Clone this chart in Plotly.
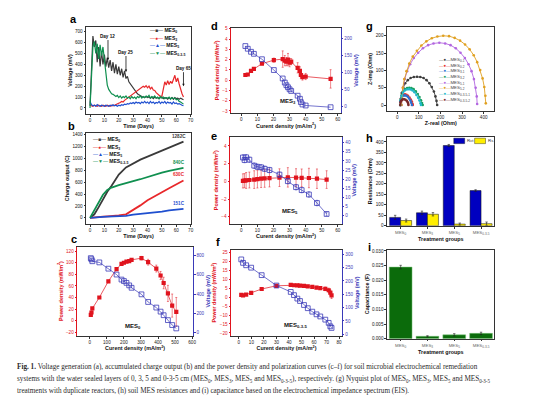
import plotly.graph_objects as go

W, H = 554, 395
def fx(p): return p / W
def fy(p): return 1 - p / H

FONT = "Arial, Liberation Sans, sans-serif"
C_BLK = "#3a3a3a"; C_RED = "#e8282b"; C_BLU = "#1f4fcf"; C_GRN = "#109050"
P_RED = "#e0141e"; P_BLU = "#3a3ab8"

# ---------------- (a) voltage generation ----------------
days_a = [0, 1, 2, 3, 4, 5, 6, 7, 8, 9, 10, 11, 12, 13, 14, 15, 16, 17, 18, 19,
          20, 21, 22, 23, 24, 25, 26, 27, 28, 29, 30, 31, 32, 33, 34, 35, 36, 37, 38, 39,
          40, 41, 42, 43, 44, 45, 46, 47, 48, 49, 50, 51, 52, 53, 54, 55, 56, 57, 58, 59,
          60, 61, 62, 63, 64, 65]
volt_mes0 = [20, 300, 660, 560, 620, 420, 560, 380, 520, 400,
             490, 380, 460, 370, 440, 340, 420, 320, 400, 310,
             380, 300, 360, 280, 340, 270, 290, 240, 220, 200,
             180, 160, 145, 130, 120, 110, 105, 100, 95, 105,
             95, 100, 90, 100, 85, 100, 90, 95, 85, 95,
             100, 85, 95, 90, 80, 95, 85, 95, 80, 95,
             85, 90, 80, 90, 85, 75]
volt_mes3 = [25, 20, 15, 25, 20, 15, 25, 20, 15, 25,
             20, 15, 25, 20, 15, 25, 20, 25, 30, 35,
             40, 50, 60, 55, 70, 80, 85, 100, 105, 120,
             125, 140, 150, 160, 165, 180, 185, 200, 190, 205,
             185, 200, 175, 190, 165, 160, 140, 130, 115, 105,
             110, 170, 240, 210, 250, 215, 245, 225, 265, 300,
             240, 275, 220, 165, 130, 100]
volt_mes5 = [60, 30, 20, 25, 15, 30, 20, 15, 25, 20,
             15, 25, 20, 15, 25, 20, 30, 20, 25, 15,
             25, 20, 30, 25, 35, 30, 40, 35, 45, 40,
             50, 40, 55, 45, 50, 40, 55, 45, 60, 45,
             55, 40, 60, 45, 55, 40, 50, 45, 60, 40,
             55, 45, 60, 40, 55, 45, 50, 35, 55, 40,
             45, 35, 40, 30, 25, 20]
volt_mes035 = [0, 320, 560, 610, 500, 590, 450, 580, 480, 560,
               420, 300, 210, 170, 150, 130, 125, 110, 105, 115,
               95, 110, 90, 105, 95, 110, 90, 100, 85, 105,
               90, 100, 85, 105, 95, 110, 90, 105, 95, 110,
               100, 115, 90, 105, 95, 110, 90, 100, 85, 105,
               90, 100, 85, 95, 90, 100, 80, 95, 85, 90,
               75, 80, 60, 55, 45, 35]

# ---------------- (b) accumulated charge ----------------
days_b = [0, 3, 6, 9, 12, 15, 20, 25, 30, 35, 40, 45, 50, 55, 60, 65]
charge_mes0 = [0, 60, 180, 320, 440, 540, 730, 850, 920, 980, 1030, 1080, 1120, 1170, 1220, 1282]
charge_mes3 = [0, 10, 15, 20, 25, 30, 40, 60, 130, 210, 295, 370, 430, 500, 570, 630]
charge_mes5 = [0, 10, 15, 18, 22, 25, 30, 35, 55, 65, 75, 90, 105, 125, 140, 151]
charge_mes035 = [0, 130, 270, 390, 470, 510, 550, 590, 620, 650, 690, 720, 760, 790, 820, 840]
charge_labels = ["1282C", "840C", "630C", "151C"]

# ---------------- (c) MES0 polarization ----------------
cur_c = [6, 10, 15, 56, 109, 157, 186, 200, 215, 231, 245, 303, 342, 390, 415, 433, 458, 483, 507]
pow_c = [10, 14, 21, 40, 68, 89, 98, 100, 102, 103, 105, 108, 101, 90, 78, 65, 47, 26, 15]
pow_c_err = [1, 1, 1, 1, 2, 2, 2, 2, 2, 2, 2, 3, 5, 6, 7, 10, 14, 20, 25]
volt_c = [772, 760, 740, 728, 663, 602, 550, 535, 516, 490, 465, 397, 318, 260, 218, 181, 130, 79, 44]

# ---------------- (d) MES3 polarization ----------------
cur_d = [2.5, 4, 6, 7.8, 12.8, 20.2, 25.7, 27, 28, 29, 30, 31, 35, 36.4, 37, 38, 40, 55.5]
pow_d = [0.5, 0.55, 0.9, 1.1, 1.6, 1.95, 2.05, 1.9, 1.8, 2.0, 1.7, 1.8, 1.2, 0.9, 0.5, 0.3, 0.35, 0.12]
pow_d_err = [0.1, 0.1, 0.1, 0.1, 0.1, 0.2, 0.8, 0.5, 0.4, 0.6, 0.4, 0.3, 0.5, 0.4, 0.3, 0.3, 0.3, 0.9]
volt_d = [178, 170, 161, 155, 139, 107, 82, 70, 62, 56, 50, 45, 31, 22, 12, 5, 2, -3]

# ---------------- (e) MES5 polarization ----------------
cur_e = [1, 2, 3, 5, 8, 10, 12.3, 14.5, 17.5, 23.7, 28.9, 34, 37.5, 42, 47, 53]
pow_e = [0.05, 0.08, 0.1, 0.15, 0.2, 0.25, 0.3, 0.33, 0.37, 0.42, 0.45, 0.43, 0.4, 0.38, 0.3, 0.2]
pow_e_err = [0.8, 0.8, 0.9, 0.9, 1.0, 1.0, 1.0, 1.0, 1.0, 1.0, 1.1, 1.0, 1.0, 1.1, 1.1, 1.0]
volt_e = [31.9, 30.5, 32, 30.7, 27.4, 26.8, 26.5, 25.7, 25, 22.5, 18.9, 15.6, 14, 11.6, 6.9, 0.9]
volt_e_err = [1.5, 1.5, 1.5, 1.5, 1.5, 1.5, 1.5, 1.5, 1.5, 1.5, 1.5, 1.5, 1.5, 1.5, 1.5, 1.0]

# ---------------- (f) MES0-3-5 polarization ----------------
cur_f = [1.9, 3.3, 5.8, 9.8, 18.2, 30, 41.4, 44, 46.7, 48.8, 52, 55, 58.6, 62, 65, 69, 71.7, 73, 74]
pow_f = [1.2, 1.0, 1.4, 2.3, 4.5, 6.3, 6.8, 6.6, 6.5, 6.4, 6.2, 6.0, 5.7, 5.3, 5.0, 4.6, 3.8, 2.5, 1.0]
pow_f_err = [0.4, 0.4, 0.5, 0.5, 0.5, 0.6, 0.6, 0.6, 0.6, 0.6, 0.6, 0.6, 0.7, 0.7, 0.8, 1.0, 1.2, 1.5, 1.8]
volt_f = [281, 268, 259, 250, 222, 183, 159, 147, 134, 125, 110, 98, 85, 75, 67, 55, 43, 30, 24]

# ---------------- (g) Nyquist ----------------
nyq_names = ["MES<sub>0-1</sub>", "MES<sub>0-2</sub>", "MES<sub>3-1</sub>", "MES<sub>3-2</sub>",
             "MES<sub>5-1</sub>", "MES<sub>5-2</sub>", "MES<sub>0-3-5-1</sub>", "MES<sub>0-3-5-2</sub>"]
nyq_colors = ["#3c3c3c", "#e8312a", "#2a6fd1", "#17a060", "#b266e0", "#e0a020", "#20b8c8", "#7a2a2a"]
zr_01 = [15, 17, 21, 28, 37, 49, 62, 77, 92, 107, 122, 136, 149, 160, 170, 177, 182, 185]
zi_01 = [0, 18, 35, 50, 63, 72, 78, 81, 82, 81, 78, 72, 63, 52, 39, 25, 12, 0]
zr_02 = [14, 15, 18, 23, 29, 36, 43, 50, 57, 63, 68, 71, 72]
zi_02 = [0, 10, 19, 26, 30, 31, 30, 27, 22, 16, 10, 4, 0]
zr_31 = [14, 15, 18, 23, 29, 35, 42, 49, 55, 61, 65, 68]
zi_31 = [0, 10, 18, 24, 27, 28, 27, 24, 19, 13, 7, 0]
zr_32 = [14, 16, 20, 27, 36, 46, 56, 66, 76, 86, 95, 103, 110, 115, 118]
zi_32 = [0, 15, 28, 39, 46, 49, 50, 49, 46, 40, 32, 23, 14, 6, 0]
zr_51 = [20, 22, 27, 35, 46, 60, 77, 97, 119, 143, 168, 195, 222, 247, 271, 293, 313, 330, 344, 355, 363, 368, 370]
zi_51 = [0, 25, 50, 75, 98, 118, 136, 151, 164, 173, 178, 180, 178, 173, 164, 151, 136, 118, 98, 75, 50, 25, 3]
zr_52 = [20, 22, 26, 33, 43, 56, 72, 91, 112, 135, 160, 186, 213, 240, 266, 291, 314, 335, 354, 370, 384, 395, 403, 408, 410]
zi_52 = [0, 25, 50, 75, 98, 120, 140, 157, 172, 184, 193, 198, 200, 199, 194, 186, 175, 161, 144, 124, 101, 77, 52, 27, 5]
zr_0351 = [14, 16, 20, 27, 35, 44, 53, 62, 71, 80, 89, 97, 103, 108, 110]
zi_0351 = [0, 14, 26, 36, 42, 45, 46, 45, 42, 37, 29, 21, 13, 5, 0]
zr_0352 = [14, 15, 18, 22, 27, 33, 39, 45, 49, 51, 52]
zi_0352 = [0, 7, 12, 15, 17, 17, 15, 12, 8, 4, 0]
nyq_x = [zr_01, zr_02, zr_31, zr_32, zr_51, zr_52, zr_0351, zr_0352]
nyq_y = [zi_01, zi_02, zi_31, zi_32, zi_51, zi_52, zi_0351, zi_0352]

# ---------------- (h) resistances, (i) capacitance ----------------
groups = ["MES<sub>0</sub>", "MES<sub>3</sub>", "MES<sub>5</sub>", "MES<sub>0-3-5</sub>"]
group_pos = [0, 1, 2, 3]
rct = [40, 62, 383, 168]
rct_err = [10, 8, 5, 4]
rs = [25, 55, 8, 10]
rs_err = [7, 8, 5, 8]
cap = [0.0245, 0.0008, 0.0013, 0.0018]
cap_err = [0.0006, 0.0002, 0.0004, 0.0004]

fig = go.Figure()

def sc(x, y, xa, ya, **kw):
    fig.add_trace(go.Scatter(x=x, y=y, xaxis=xa, yaxis=ya, showlegend=False, **kw))

# (a)
sc(days_a, volt_mes0, "x", "y", mode="lines", line=dict(color=C_BLK, width=1.2))
sc(days_a, volt_mes3, "x", "y", mode="lines", line=dict(color=C_RED, width=1.2))
sc(days_a, volt_mes5, "x", "y", mode="lines", line=dict(color=C_BLU, width=1.2))
sc(days_a, volt_mes035, "x", "y", mode="lines", line=dict(color=C_GRN, width=1.2))
# (b)
sc(days_b, charge_mes0, "x2", "y2", mode="lines", line=dict(color=C_BLK, width=1.8))
sc(days_b, charge_mes3, "x2", "y2", mode="lines", line=dict(color=C_RED, width=1.8))
sc(days_b, charge_mes5, "x2", "y2", mode="lines", line=dict(color=C_BLU, width=1.8))
sc(days_b, charge_mes035, "x2", "y2", mode="lines", line=dict(color=C_GRN, width=1.8))

def polar(cur, pw, pw_err, volt, xa, yl, yr, verr=None, msize=4.2):
    sc(cur, pw, xa, yl, mode="lines+markers", line=dict(color=P_RED, width=0.7),
       marker=dict(symbol="square", size=msize, color=P_RED),
       error_y=dict(type="data", array=pw_err, color=P_RED, thickness=0.5, width=1))
    kw = {}
    if verr is not None:
        kw["error_y"] = dict(type="data", array=verr, color=P_BLU, thickness=0.5, width=1)
    sc(cur, volt, xa, yr, mode="lines+markers", line=dict(color=P_BLU, width=0.7),
       marker=dict(symbol="square-open", size=msize + 0.6, color=P_BLU, line=dict(width=0.8)), **kw)

polar(cur_c, pow_c, pow_c_err, volt_c, "x3", "y3", "y4")
polar(cur_d, pow_d, pow_d_err, volt_d, "x4", "y5", "y6")
polar(cur_e, pow_e, pow_e_err, volt_e, "x5", "y7", "y8", verr=volt_e_err)
polar(cur_f, pow_f, pow_f_err, volt_f, "x6", "y9", "y10")

# (g)
for xs, ys, col in zip(nyq_x, nyq_y, nyq_colors):
    sc(xs, ys, "x7", "y11", mode="lines+markers", line=dict(color=col, width=0.9),
       marker=dict(size=2.6, color=col))

# (h)
fig.add_trace(go.Bar(x=group_pos, y=rct, xaxis="x8", yaxis="y12", width=0.41, offset=-0.41,
                     marker=dict(color="#0000c0", line=dict(color="#101010", width=0.5)),
                     error_y=dict(type="data", array=rct_err, color="#222", thickness=0.6, width=1.2),
                     showlegend=False))
fig.add_trace(go.Bar(x=group_pos, y=rs, xaxis="x8", yaxis="y12", width=0.41, offset=0.0,
                     marker=dict(color="#ffee00", line=dict(color="#101010", width=0.5)),
                     error_y=dict(type="data", array=rs_err, color="#222", thickness=0.6, width=1.2),
                     showlegend=False))
# (i)
fig.add_trace(go.Bar(x=group_pos, y=cap, xaxis="x9", yaxis="y13", width=0.85,
                     marker=dict(color="#0b6b0b", line=dict(color="#7cc87c", width=0.5)),
                     error_y=dict(type="data", array=cap_err, color="#222", thickness=0.6, width=1.2),
                     showlegend=False))

TICKF = dict(family=FONT, size=4.6, color="#222")
def tfont(color="#111", size=5.4):
    return dict(family=FONT, size=size, color=color)

def xax(l, r, anchor, rng, dtick, title, **kw):
    d = dict(domain=[fx(l), fx(r)], anchor=anchor, range=rng, dtick=dtick, tick0=0,
             showline=True, linecolor="#333", linewidth=0.7, mirror=True,
             ticks="outside", ticklen=2, tickwidth=0.6, tickcolor="#333",
             showgrid=False, zeroline=False, tickfont=TICKF,
             title=dict(text="<b>" + title + "</b>", font=tfont(), standoff=1))
    d.update(kw)
    return d

def yax(t, b, anchor, rng, dtick, title, color="#333", mirror=True, tcolor="#111", **kw):
    d = dict(domain=[fy(b), fy(t)], anchor=anchor, range=rng, dtick=dtick, tick0=0,
             showline=True, linecolor=color, linewidth=0.7, mirror=mirror,
             ticks="outside", ticklen=2, tickwidth=0.6, tickcolor=color,
             showgrid=False, zeroline=False,
             tickfont=dict(family=FONT, size=4.6, color=tcolor),
             title=dict(text="<b>" + title + "</b>", font=tfont(tcolor), standoff=2))
    d.update(kw)
    return d

def yright(overlay, anchor, rng, dtick, title):
    return dict(overlaying=overlay, side="right", anchor=anchor, range=rng, dtick=dtick, tick0=0,
                showline=True, linecolor=P_BLU, linewidth=0.7, ticks="outside", ticklen=2,
                tickwidth=0.6, tickcolor=P_BLU, showgrid=False, zeroline=False,
                tickfont=dict(family=FONT, size=4.6, color=P_BLU),
                title=dict(text="<b>" + title + "</b>", font=tfont(P_BLU), standoff=2))

PD = "Power density (mW/m<sup>2</sup>)"
CD = "Curent density (mA/m<sup>2</sup>)"
grp_ticks = dict(tickmode="array", tickvals=group_pos, ticktext=groups,
                 tickfont=dict(family=FONT, size=4.4, color="#666"))

fig.update_layout(
    width=W, height=H, margin=dict(l=0, r=0, t=0, b=0),
    paper_bgcolor="white", plot_bgcolor="white", barmode="overlay",
    font=dict(family=FONT),
    xaxis=xax(79, 184, "y", [-2.5, 70], 10, "Time (Days)"),
    yaxis=yax(18, 106, "x", [-55, 745], 100, "Voltage (mV)"),
    xaxis2=xax(79, 184, "y2", [-2.5, 70], 10, "Time (Days)"),
    yaxis2=yax(125, 217, "x2", [-100, 1433], 200, "Charge output (C)"),
    xaxis3=xax(70, 186, "y3", [-72, 603], 100, CD),
    yaxis3=yax(240, 330, "x3", [-26, 128], 20, PD, color=P_RED, mirror=False, tcolor=P_RED),
    yaxis4=yright("y3", "x3", [-31, 892], 200, "Voltage (mV)"),
    xaxis4=xax(225, 335, "y5", [-6.2, 61.7], 10, CD),
    yaxis5=yax(19, 105, "x4", [-3.2, 5.1], 1, PD, color=P_RED, mirror=False, tcolor=P_RED),
    yaxis6=yright("y5", "x4", [-20, 232], 50, "Voltage (mV)"),
    xaxis5=xax(224, 336, "y7", [-6.8, 62.3], 10, CD),
    yaxis7=yax(129, 217, "x5", [-4.8, 5.05], 2, PD, color=P_RED, mirror=False, tcolor=P_RED),
    yaxis8=yright("y7", "x5", [-4.5, 43.3], 5, "Voltage (mV)"),
    xaxis6=xax(225, 336, "y9", [-6, 82], 10, CD),
    yaxis9=yax(243, 330, "x6", [-21.5, 26.5], 5, PD, color=P_RED, mirror=False, tcolor=P_RED),
    yaxis10=yright("y9", "x6", [-5, 318], 50, "Voltage (mV)"),
    xaxis7=xax(382, 490, "y11", [-46, 450], 100, "Z-real (Ohm)"),
    yaxis11=yax(18, 103, "x7", [-17, 226], 50, "Z-img (Ohm)"),
    xaxis8=xax(382, 490, "y12", [-0.5, 3.5], 1, "Treatment groups", **grp_ticks),
    yaxis12=yax(129, 219, "x8", [0, 425], 50, "Resistance (Ohm)"),
    xaxis9=xax(382, 490, "y13", [-0.5, 3.5], 1, "Treatment groups", **grp_ticks),
    yaxis13=yax(243, 333, "x9", [0, 0.0305], 0.005, "Capacitance (F)", tickformat=".3f"),
)

ann = []
def A(text, x, y, xref="paper", yref="paper", size=5, color="#111", xanchor="left", yanchor="middle", fam=FONT, **kw):
    ann.append(dict(text=text, x=x, y=y, xref=xref, yref=yref, showarrow=False,
                    font=dict(family=fam, size=size, color=color), xanchor=xanchor, yanchor=yanchor, **kw))

# panel letters
for lab, px, py in [("a", 66, 10), ("b", 64, 118), ("c", 66, 232), ("d", 208, 17), ("e", 208, 128),
                    ("f", 212, 235), ("g", 364, 17), ("h", 364, 130), ("i", 364, 240)]:
    A("<b>" + lab + "</b>", fx(px), fy(py), size=11, color="#000", xanchor="center")

# legends (a) and (b)
leg_items = [(C_BLK, "■", "MES<sub>0</sub>"), (C_RED, "●", "MES<sub>3</sub>"),
             (C_BLU, "▲", "MES<sub>5</sub>"), (C_GRN, "▼", "MES<sub>0-3-5</sub>")]
for (col, sym, name), py in zip(leg_items, [22, 29.5, 37, 44.5]):
    A("<span style='color:%s'>—%s—</span> <b>%s</b>" % (col, sym, name), fx(141), fy(py), size=5)
for (col, sym, name), py in zip(leg_items, [132, 139.5, 147, 154.5]):
    A("<span style='color:%s'>—%s—</span> <b>%s</b>" % (col, sym, name), fx(84), fy(py), size=5)

# day annotations in (a)
for txt, d, v, ay in [("Day 12", 12.5, 440, -24), ("Day 25", 25, 330, -20), ("Day 65", 65, 200, -18)]:
    ann.append(dict(text="<b>%s</b>" % txt, x=d, y=v, xref="x", yref="y", showarrow=True,
                    ax=0, ay=ay, arrowhead=2, arrowsize=0.6, arrowwidth=0.8, arrowcolor="#111",
                    font=dict(family=FONT, size=4.6, color="#111")))

# charge labels in (b)
for txt, v, col in zip(charge_labels, [1370, 930, 730, 240], [C_BLK, C_GRN, C_RED, C_BLU]):
    A("<b>%s</b>" % txt, 62, v, xref="x2", yref="y2", size=4.6, color=col, xanchor="center")

# MES labels in c-f
A("<b>MES<sub>0</sub></b>", 256, -10, xref="x3", yref="y3", size=6, xanchor="center")
A("<b>MES<sub>3</sub></b>", 29, -2.1, xref="x4", yref="y5", size=6, xanchor="center")
A("<b>MES<sub>5</sub></b>", 30, -3.4, xref="x5", yref="y7", size=6, xanchor="center")
A("<b>MES<sub>0-3-5</sub></b>", 45, -15.7, xref="x6", yref="y9", size=6, xanchor="center")

# legend (g)
for name, col, py in zip(nyq_names, nyq_colors, [51.7, 57.4, 63.1, 68.8, 74.5, 80.2, 85.9, 91.6]):
    A("<span style='color:%s'>—●—</span>%s" % (col, name), fx(432), fy(py), size=4.4, color="#444")

# legend (h)
shapes = [
    dict(type="rect", xref="paper", yref="paper", x0=fx(449), x1=fx(460), y0=fy(136), y1=fy(130.5),
         fillcolor="#0000c0", line=dict(width=0.4, color="#111")),
    dict(type="rect", xref="paper", yref="paper", x0=fx(470), x1=fx(481), y0=fy(136), y1=fy(130.5),
         fillcolor="#ffee00", line=dict(width=0.4, color="#111")),
]
A("Rct", fx(460.5), fy(133.3), size=4.4, color="#333")
A("Rs", fx(481.5), fy(133.3), size=4.4, color="#333")

# caption
CAP = "Liberation Serif, Times New Roman, serif"
cap_lines = [
    "<b>Fig. 1.</b> Voltage generation (a), accumulated charge output (b) and the power density and polarization curves (c\u2013f) for soil microbial electrochemical remediation",
    "systems with the water sealed layers of 0, 3, 5 and 0-3-5 cm (MES<sub>0</sub>, MES<sub>3</sub>, MES<sub>5</sub> and MES<sub>0-3-5</sub>), respectively. (g) Nyquist plot of MES<sub>0</sub>, MES<sub>3</sub>, MES<sub>5</sub> and MES<sub>0-3-5</sub>",
    "treatments with duplicate reactors, (h) soil MES resistances and (i) capacitance based on the electrochemical impedance spectrum (EIS).",
]
for line, py in zip(cap_lines, [362, 374, 386]):
    A(line, fx(7), fy(py), size=7.2, color="#2a2a2a", fam=CAP)

fig.update_layout(annotations=ann, shapes=shapes)
fig.write_html("out.html")
